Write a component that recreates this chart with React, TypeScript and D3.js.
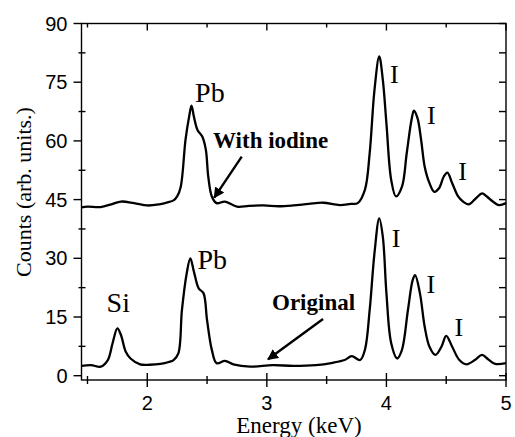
import React, { useRef, useEffect } from 'react';
import * as d3 from 'd3';

// Energy (keV) / counts
const iodineE = [1.45, 1.5, 1.61, 1.7, 1.78, 1.89, 2.0, 2.1, 2.17, 2.22, 2.25, 2.28, 2.32, 2.35, 2.37, 2.39, 2.42, 2.46, 2.49, 2.51, 2.54, 2.58, 2.65, 2.75, 2.85, 2.97, 3.1, 3.22, 3.35, 3.47, 3.61, 3.7, 3.76, 3.82, 3.86, 3.9, 3.94, 3.97, 4.0, 4.04, 4.08, 4.13, 4.17, 4.21, 4.23, 4.26, 4.29, 4.32, 4.36, 4.4, 4.44, 4.48, 4.51, 4.55, 4.6, 4.64, 4.69, 4.75, 4.8, 4.84, 4.89, 4.94, 5.0];
const iodineC = [43.0, 43.2, 43.1, 43.8, 44.5, 44.1, 43.5, 43.8, 44.3, 44.8, 45.8, 48.3, 60.3, 66.2, 69.0, 66.2, 62.8, 61.1, 57.7, 50.9, 45.8, 44.1, 44.5, 43.2, 43.4, 43.5, 43.3, 43.5, 43.9, 44.2, 43.6, 43.9, 44.1, 47.5, 56.9, 73.0, 81.6, 75.6, 64.5, 50.0, 45.8, 48.3, 56.9, 65.4, 67.7, 65.8, 60.3, 53.4, 49.2, 47.0, 47.9, 50.9, 51.9, 49.2, 45.8, 44.5, 43.8, 45.4, 46.6, 45.8, 44.5, 43.6, 44.1];

const originalE = [1.45, 1.53, 1.61, 1.67, 1.71, 1.75, 1.78, 1.82, 1.86, 1.94, 2.02, 2.11, 2.18, 2.22, 2.26, 2.29, 2.33, 2.36, 2.39, 2.43, 2.47, 2.5, 2.54, 2.58, 2.65, 2.72, 2.86, 3.05, 3.22, 3.41, 3.55, 3.65, 3.71, 3.78, 3.82, 3.86, 3.9, 3.94, 3.97, 4.0, 4.04, 4.09, 4.13, 4.18, 4.22, 4.24, 4.28, 4.32, 4.36, 4.41, 4.46, 4.5, 4.55, 4.61, 4.67, 4.74, 4.8, 4.85, 4.91, 5.0];
const originalC = [2.5, 2.7, 2.3, 4.0, 8.3, 12.1, 10.4, 6.1, 4.4, 2.9, 2.8, 3.0, 3.5, 4.0, 5.7, 16.8, 26.2, 30.0, 26.6, 22.3, 21.1, 14.2, 6.6, 3.2, 3.8, 2.9, 2.3, 2.7, 2.5, 2.7, 3.3, 4.0, 5.0, 4.0, 6.6, 16.8, 31.3, 40.2, 35.5, 21.1, 8.3, 4.4, 6.6, 16.8, 24.5, 25.7, 21.1, 12.5, 7.4, 5.3, 7.4, 10.2, 7.4, 4.0, 2.9, 4.0, 5.3, 4.2, 3.0, 3.2];

const yTicks = [0, 15, 30, 45, 60, 75, 90];
const yMinor = [7.5, 22.5, 37.5, 52.5, 67.5, 82.5];
const xTicks = [2, 3, 4, 5];
const xMinor = [1.5, 2.5, 3.5, 4.5];

const peakLabels = [
  { text: 'Pb', e: 2.4, c: 70.0 },
  { text: 'I', e: 4.03, c: 74.9 },
  { text: 'I', e: 4.34, c: 64.2 },
  { text: 'I', e: 4.6, c: 50.0 },
  { text: 'Si', e: 1.66, c: 16.3 },
  { text: 'Pb', e: 2.42, c: 27.2 },
  { text: 'I', e: 4.045, c: 32.8 },
  { text: 'I', e: 4.335, c: 21.2 },
  { text: 'I', e: 4.57, c: 10.2 },
];

const App: React.FC = () => {
  const svgRef = useRef<SVGSVGElement>(null);

  useEffect(() => {
    const svg = d3.select(svgRef.current);
    svg.selectAll('*').remove();

    const left = 81.5, right = 506, top = 23.5, bottom = 380;
    const x = d3.scaleLinear().domain([1.45, 5.0]).range([left, right]);
    const y = d3.scaleLinear().domain([-1.1, 90]).range([bottom, top]);

    const defs = svg.append('defs');
    defs.append('marker')
      .attr('id', 'arrow')
      .attr('viewBox', '0 0 10 10')
      .attr('refX', 9).attr('refY', 5)
      .attr('markerWidth', 4.5).attr('markerHeight', 4.5)
      .attr('markerUnits', 'strokeWidth')
      .attr('orient', 'auto')
      .append('path')
      .attr('d', 'M0,0 L10,5 L0,10 Z')
      .attr('fill', '#000');

    const line = d3.line<[number, number]>()
      .x(d => x(d[0]))
      .y(d => y(d[1]))
      .curve(d3.curveCatmullRom.alpha(0.5));

    const series = [
      iodineE.map((e, i) => [e, iodineC[i]] as [number, number]),
      originalE.map((e, i) => [e, originalC[i]] as [number, number]),
    ];
    series.forEach(s => {
      svg.append('path')
        .datum(s)
        .attr('fill', 'none')
        .attr('stroke', '#000')
        .attr('stroke-width', 2.3)
        .attr('stroke-linejoin', 'round')
        .attr('d', line);
    });

    // frame
    svg.append('rect')
      .attr('x', left).attr('y', top)
      .attr('width', right - left).attr('height', bottom - top)
      .attr('fill', 'none')
      .attr('stroke', '#000')
      .attr('stroke-width', 1.4);

    const tick = (x1: number, y1: number, x2: number, y2: number) =>
      svg.append('line')
        .attr('x1', x1).attr('y1', y1).attr('x2', x2).attr('y2', y2)
        .attr('stroke', '#000').attr('stroke-width', 1.4);

    // left axis
    yTicks.forEach(v => tick(left - 8, y(v), left, y(v)));
    yMinor.forEach(v => tick(left - 3, y(v), left + 4, y(v)));
    // right axis, inward
    [...yTicks, ...yMinor].forEach(v => tick(right - 7, y(v), right, y(v)));
    // bottom axis
    xTicks.forEach(v => tick(x(v), bottom - 7, x(v), bottom + 7));
    xMinor.forEach(v => tick(x(v), bottom - 4, x(v), bottom + 4));
    // top axis, inward
    xTicks.forEach(v => tick(x(v), top, x(v), top + 7));
    xMinor.forEach(v => tick(x(v), top, x(v), top + 4));

    svg.append('g').selectAll('text')
      .data(yTicks).enter().append('text')
      .attr('x', left - 14)
      .attr('y', d => y(d))
      .attr('dy', '0.36em')
      .attr('text-anchor', 'end')
      .style('font-family', '"Liberation Sans", Arial, sans-serif')
      .style('font-size', '20px')
      .text(d => d);

    svg.append('g').selectAll('text')
      .data(xTicks).enter().append('text')
      .attr('x', d => x(d))
      .attr('y', 410)
      .attr('text-anchor', 'middle')
      .style('font-family', '"Liberation Sans", Arial, sans-serif')
      .style('font-size', '20px')
      .text(d => d);

    const serif = '"Liberation Serif", "Times New Roman", serif';

    svg.append('text')
      .attr('x', 299).attr('y', 433)
      .attr('text-anchor', 'middle')
      .style('font-family', serif)
      .style('font-size', '23px')
      .text('Energy (keV)');

    svg.append('text')
      .attr('transform', 'translate(31,192) rotate(-90)')
      .attr('text-anchor', 'middle')
      .style('font-family', serif)
      .style('font-size', '22px')
      .text('Counts (arb. units.)');

    svg.append('g').selectAll('text')
      .data(peakLabels).enter().append('text')
      .attr('x', d => x(d.e))
      .attr('y', d => y(d.c))
      .style('font-family', serif)
      .style('font-size', d => (d.text === 'I' ? '26px' : '28px'))
      .text(d => d.text);

    // annotations
    svg.append('text')
      .attr('x', 213).attr('y', 148)
      .style('font-family', serif)
      .style('font-size', '23px')
      .style('font-weight', 'bold')
      .text('With iodine');
    svg.append('line')
      .attr('x1', x(2.79)).attr('y1', y(56))
      .attr('x2', x(2.56)).attr('y2', y(45.5))
      .attr('stroke', '#000').attr('stroke-width', 2.4)
      .attr('marker-end', 'url(#arrow)');

    svg.append('text')
      .attr('x', 272).attr('y', 310)
      .style('font-family', serif)
      .style('font-size', '23px')
      .style('font-weight', 'bold')
      .text('Original');
    svg.append('line')
      .attr('x1', x(3.47)).attr('y1', y(14.5))
      .attr('x2', x(3.01)).attr('y2', y(4.2))
      .attr('stroke', '#000').attr('stroke-width', 2.4)
      .attr('marker-end', 'url(#arrow)');
  }, []);

  return (
    <svg ref={svgRef} width={515} height={437}
      style={{ position: 'absolute', left: 0, top: 0, background: '#fff' }} />
  );
};

export default App;
